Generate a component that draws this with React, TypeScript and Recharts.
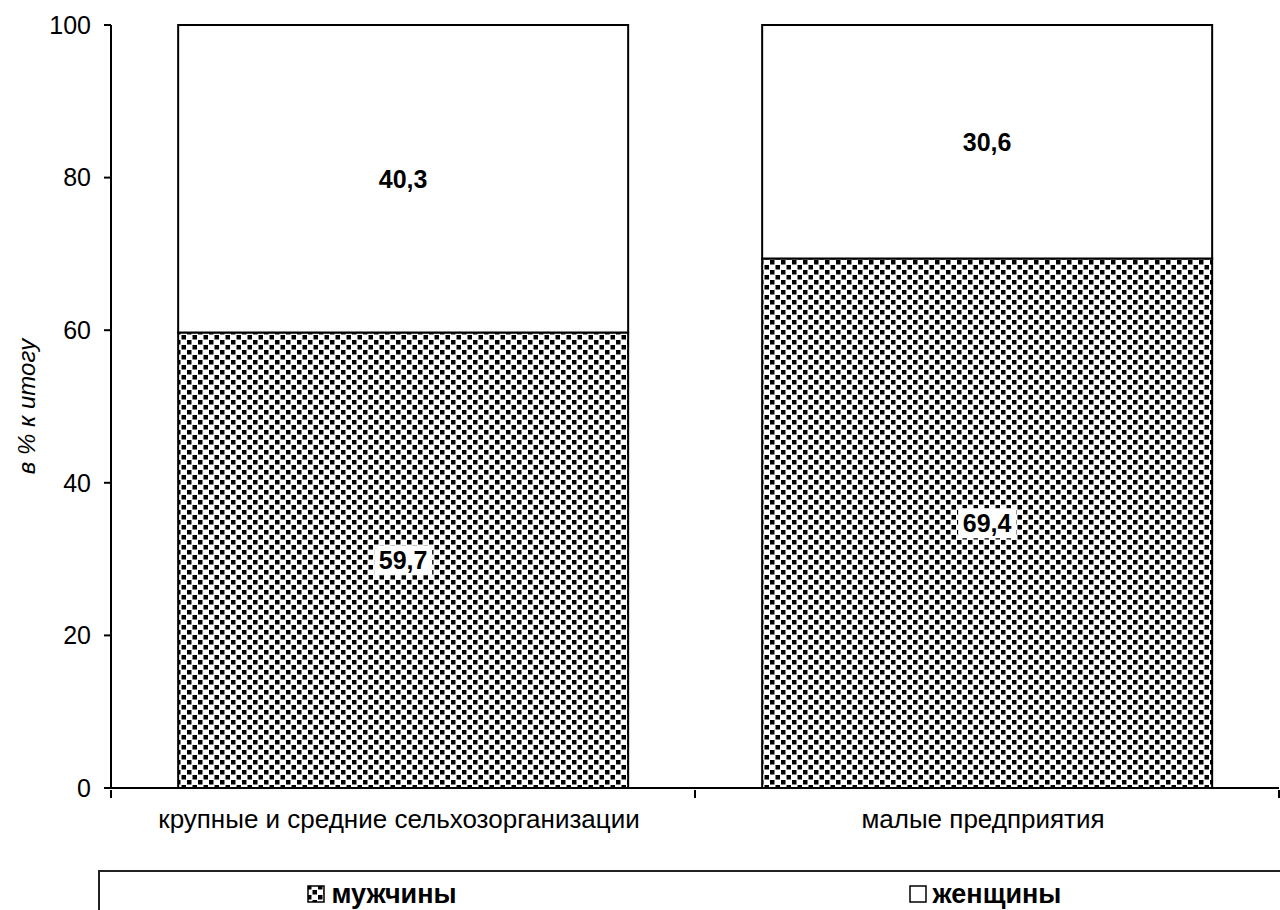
import { BarChart, Bar, XAxis, YAxis, Legend, LabelList } from 'recharts';

const categories = ['крупные и средние сельхозорганизации', 'малые предприятия'];
const men = [59.7, 69.4];
const women = [40.3, 30.6];
const yTicks = [0, 20, 40, 60, 80, 100];

const data = categories.map((name, i) => ({ name, men: men[i], women: women[i] }));

const FONT = '"Liberation Sans", Arial, sans-serif';
const fmt = (v: number) => String(v).replace('.', ',');

function DotPattern({ id }: { id: string }) {
    return (
        <pattern id={id} width="11" height="10" patternUnits="userSpaceOnUse">
            <rect width="11" height="10" fill="#fff" />
            <rect x="0" y="0" width="4.5" height="4.5" fill="#000" />
            <rect x="5.5" y="5" width="4.5" height="4.5" fill="#000" />
        </pattern>
    );
}

function CategoryTick(props: any) {
    const { x, y, payload } = props;
    const off = payload.offset || 0;
    return (
        <g>
            <line x1={x - off} y1={y - 6} x2={x - off} y2={y + 2} stroke="#000" strokeWidth={2} />
            <line x1={x + off} y1={y - 6} x2={x + off} y2={y + 2} stroke="#000" strokeWidth={2} />
            <text x={x - 4} y={y + 32} textAnchor="middle" fontSize={26} fontFamily={FONT} fill="#000">
                {payload.value}
            </text>
        </g>
    );
}

function SegmentLabel(props: any) {
    const { x, y, width, height, value, boxed } = props;
    const cx = x + width / 2;
    const cy = y + height / 2;
    const txt = fmt(value);
    const w = txt.length * 13.5 + 4;
    return (
        <g>
            {boxed && <rect x={cx - w / 2} y={cy - 15} width={w} height={30} fill="#fff" />}
            <text x={cx} y={cy} textAnchor="middle" dominantBaseline="central" fontSize={25}
                fontWeight="bold" fontFamily={FONT} fill="#000">
                {txt}
            </text>
        </g>
    );
}

function LegendBox() {
    const item = (label: string, patterned: boolean, shift: number) => (
        <div style={{ flex: 1, display: 'flex', justifyContent: 'center', alignItems: 'center' }}>
            <div style={{ display: 'flex', alignItems: 'center', position: 'relative', left: shift }}>
                <svg width={18} height={18} style={{ marginRight: 6 }}>
                    <defs><DotPattern id="legendDots" /></defs>
                    <rect x={1} y={1} width={16} height={16} fill={patterned ? 'url(#legendDots)' : '#fff'}
                        stroke="#000" strokeWidth={1.5} />
                </svg>
                <span style={{ fontWeight: 'bold', fontSize: 27, fontFamily: FONT, color: '#000' }}>{label}</span>
            </div>
        </div>
    );
    return (
        <div style={{
            height: 40, borderTop: '2px solid #222', borderLeft: '2px solid #222',
            display: 'flex', boxSizing: 'border-box', paddingTop: 6
        }}>
            {item('мужчины', true, -13)}
            {item('женщины', false, 0)}
        </div>
    );
}

export default function App() {
    return (
        <div style={{ position: 'absolute', left: 0, top: 0, width: 1280, height: 910, background: '#fff', overflow: 'hidden' }}>
            <BarChart width={1280} height={910} data={data}
                margin={{ top: 25, right: 1, left: 0, bottom: 0 }} barCategoryGap="11.5%">
                <defs>
                    <DotPattern id="dots" />
                </defs>
                <XAxis dataKey="name" height={82} axisLine={{ stroke: '#000', strokeWidth: 2 }}
                    tickLine={false} tick={<CategoryTick />} interval={0} />
                <YAxis domain={[0, 100]} ticks={yTicks} width={111} tickSize={7} tickMargin={13}
                    axisLine={{ stroke: '#000', strokeWidth: 2 }} tickLine={{ stroke: '#000', strokeWidth: 2 }}
                    tick={{ fontSize: 25, fontFamily: FONT, fill: '#000' }}
                    label={{
                        content: (p: any) => {
                            const vb = p.viewBox;
                            const cy = vb.y + vb.height / 2;
                            return (
                                <text x={26} y={cy} transform={`rotate(-90, 26, ${cy})`} textAnchor="middle"
                                    dominantBaseline="central" fontSize={24} fontStyle="italic"
                                    fontFamily={FONT} fill="#000">
                                    в % к итогу
                                </text>
                            );
                        }
                    }} />
                <Legend verticalAlign="bottom" height={40} content={() => <LegendBox />}
                    wrapperStyle={{ left: 98, width: 1182, bottom: 0 }} />
                <Bar dataKey="men" stackId="a" fill="url(#dots)" stroke="#000" strokeWidth={2}
                    isAnimationActive={false}>
                    <LabelList dataKey="men" content={(p: any) => <SegmentLabel {...p} boxed />} />
                </Bar>
                <Bar dataKey="women" stackId="a" fill="#fff" stroke="#000" strokeWidth={2}
                    isAnimationActive={false}>
                    <LabelList dataKey="women" content={(p: any) => <SegmentLabel {...p} />} />
                </Bar>
            </BarChart>
        </div>
    );
}
